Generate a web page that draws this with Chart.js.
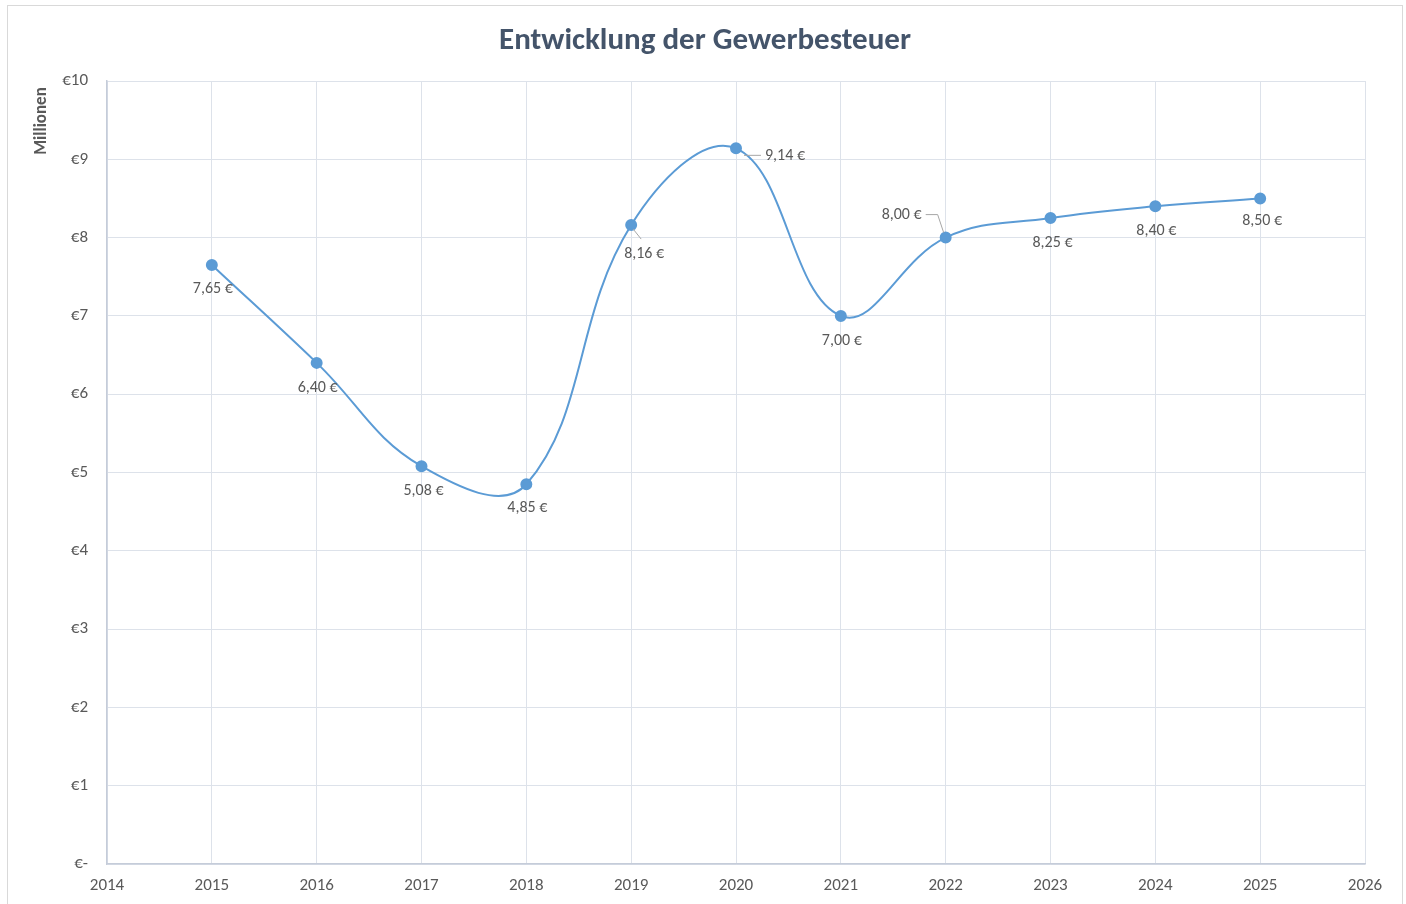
<!DOCTYPE html>
<html lang="de">
<head>
<meta charset="utf-8">
<title>Entwicklung der Gewerbesteuer</title>
<script src="https://cdn.jsdelivr.net/npm/chart.js@4.4.1/dist/chart.umd.min.js"></script>
<style>
  html, body { margin: 0; padding: 0; background: #fff; }
  #wrap { position: relative; width: 1406px; height: 904px; overflow: hidden; }
  #frame { position: absolute; left: 7px; top: 5px; width: 1396px; height: 940px; border: 1px solid #d9d9d9; box-sizing: border-box; }
  canvas { position: absolute; left: 0; top: 0; }
</style>
</head>
<body>
<div id="wrap">
  <div id="frame"></div>
  <canvas id="chart" width="1406" height="904"></canvas>
</div>
<script>
// ── Daten ──
var years  = [2015, 2016, 2017, 2018, 2019, 2020, 2021, 2022, 2023, 2024, 2025];
var values = [7.65, 6.40, 5.08, 4.85, 8.16, 9.14, 7.00, 8.00, 8.25, 8.40, 8.50];
var xTicks = [2014, 2015, 2016, 2017, 2018, 2019, 2020, 2021, 2022, 2023, 2024, 2025, 2026];
var yTicks = [0, 1, 2, 3, 4, 5, 6, 7, 8, 9, 10];
var chartTitle = "Entwicklung der Gewerbesteuer";
var yTitle = "Millionen";

// Lage der Datenbeschriftungen (dx, dy relativ zum Punkt, in px) – nur Layout
var labelPlacement = [
  [1, 24], [1, 25], [2, 25], [1, 24], [13, 29], [49, 8],
  [1, 25], [-44, -23], [2, 25], [1, 25], [2, 23]
];

var blue = "#5b9bd5";
var gridCol = "#dde2ea";
var axisCol = "#c5ccd9";
var textCol = "#595959";
var font = "Calibri, Carlito, 'Open Sans', sans-serif";

function fmtEuro(v) {
  return v.toFixed(2).replace(".", ",") + " €";
}

// ── Titel + Achsentitel ──
var chartTexts = {
  id: "chartTexts",
  afterDraw: function(chart) {
    var ctx = chart.ctx;
    ctx.save();
    ctx.textAlign = "center";
    ctx.textBaseline = "middle";
    ctx.fillStyle = "#44546a";
    ctx.font = "bold 31px " + font;
    ctx.fillText(chartTitle, 705, 41);
    ctx.translate(42, 121);
    ctx.rotate(-Math.PI / 2);
    ctx.fillStyle = textCol;
    ctx.font = "bold 17px " + font;
    ctx.fillText(yTitle, 0, 0);
    ctx.restore();
  }
};

// ── Datenbeschriftungen mit Führungslinien ──
var valueLabels = {
  id: "valueLabels",
  afterDatasetsDraw: function(chart) {
    var ctx = chart.ctx;
    var meta = chart.getDatasetMeta(0);
    ctx.save();
    ctx.font = "16px " + font;
    ctx.fillStyle = textCol;
    ctx.textAlign = "center";
    ctx.textBaseline = "middle";
    meta.data.forEach(function(pt, i) {
      var off = labelPlacement[i];
      var lx = pt.x + off[0], ly = pt.y + off[1];
      var txt = fmtEuro(values[i]);
      var w = ctx.measureText(txt).width;
      ctx.strokeStyle = "#a6a6a6"; ctx.lineWidth = 1;
      if (i === 4) {
        ctx.beginPath(); ctx.moveTo(pt.x + 2, pt.y + 4); ctx.lineTo(pt.x + 10, pt.y + 14); ctx.stroke();
      } else if (i === 5) {
        ctx.beginPath(); ctx.moveTo(pt.x + 8, pt.y + 7); ctx.lineTo(lx - w / 2 - 4, pt.y + 7); ctx.stroke();
      } else if (i === 7) {
        ctx.beginPath(); ctx.moveTo(lx + w / 2 + 4, ly); ctx.lineTo(pt.x - 8, ly); ctx.lineTo(pt.x - 2, pt.y - 5); ctx.stroke();
      }
      ctx.fillText(txt, lx, ly);
    });
    ctx.restore();
  }
};

new Chart(document.getElementById("chart"), {
  type: "line",
  data: {
    datasets: [{
      label: "Gewerbesteuer",
      data: years.map(function(y, i) { return { x: y, y: values[i] }; }),
      borderColor: blue,
      backgroundColor: blue,
      borderWidth: 2,
      pointRadius: 5,
      pointHoverRadius: 5,
      pointBackgroundColor: blue,
      pointBorderColor: blue,
      tension: 0.4,
      fill: false
    }]
  },
  options: {
    responsive: false,
    animation: false,
    layout: { padding: { left: 28, right: 41, top: 81, bottom: 0 } },
    plugins: {
      legend: { display: false },
      tooltip: { enabled: false },
      title: { display: false }
    },
    scales: {
      x: {
        type: "linear",
        min: 2014, max: 2026,
        afterBuildTicks: function(s) { s.ticks = xTicks.map(function(v) { return { value: v }; }); },
        afterFit: function(s) { s.height = 40; },
        grid: { color: gridCol, drawTicks: false },
        border: { color: axisCol, width: 1.5 },
        ticks: {
          color: textCol, padding: 12, maxRotation: 0,
          font: { family: font, size: 17 },
          callback: function(v) { return String(v); }
        }
      },
      y: {
        min: 0, max: 10,
        afterBuildTicks: function(s) { s.ticks = yTicks.map(function(v) { return { value: v }; }); },
        afterFit: function(s) { s.width = 79; },
        grid: { color: gridCol, drawTicks: false },
        border: { color: axisCol, width: 1.5 },
        ticks: {
          color: textCol, padding: 19,
          font: { family: font, size: 17 },
          callback: function(v) { return v === 0 ? "€-" : "€" + v; }
        }
      }
    }
  },
  plugins: [valueLabels, chartTexts]
});
</script>
</body>
</html>
